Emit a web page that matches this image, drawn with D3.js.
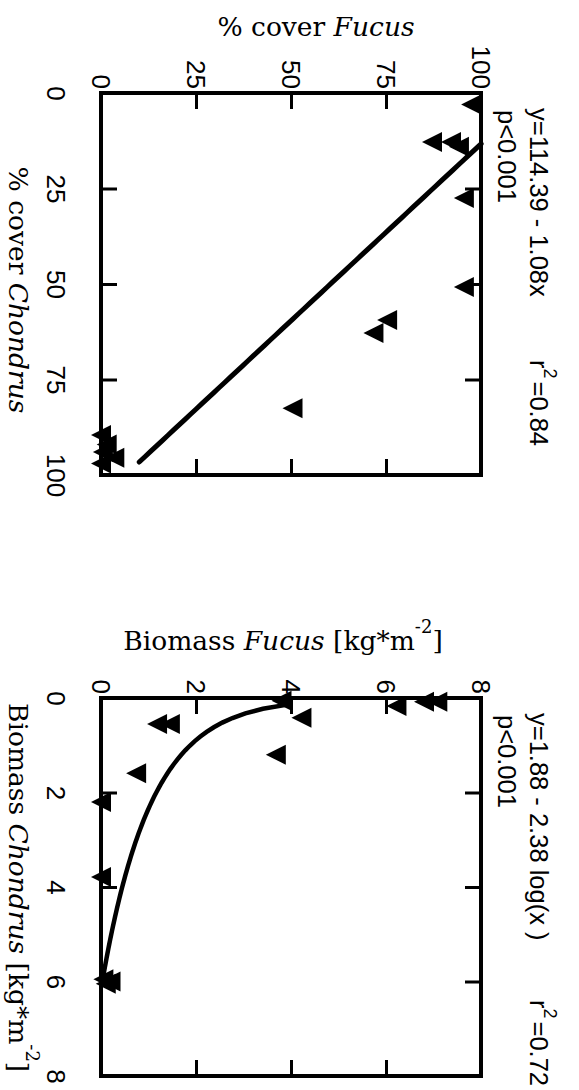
<!DOCTYPE html>
<html><head><meta charset="utf-8">
<script src="https://cdn.jsdelivr.net/npm/d3@7"></script>
<style>body{margin:0;background:#fff} svg{display:block}</style>
</head><body><svg id="c" width="579" height="1090"></svg>
<script>
// ---------- DATA ----------
// Panel 1: % cover
const p1Chondrus = [3, 12.8, 12.8, 14.1, 27.5, 50.8, 59.4, 62.8, 82.5, 89.5, 92, 94, 95.5, 97];
const p1Fucus    = [97.4, 87.1, 92.1, 94.2, 95.5, 95.5, 75.3, 71.7, 50.4, 0, 1.5, 0.5, 3.5, 0];
const p1Ticks = [0, 25, 50, 75, 100];
const p1FitA = 114.39, p1FitB = -1.08;          // y = a + b x
const p1FitRange = [13.3, 96.6];
const p1Eq = "y=114.39 - 1.08x", p1R2 = "0.84", p1P = "p<0.001";

// Panel 2: biomass
const p2Chondrus = [0.08, 0.08, 0.17, 0.06, 0.42, 1.2, 0.55, 0.55, 1.59, 2.2, 3.79, 5.95, 6.0, 6.05];
const p2Fucus    = [6.8, 7.08, 6.22, 3.8, 4.22, 3.68, 1.18, 1.45, 0.74, 0.0, 0.0, 0.05, 0.2, 0.1];
const p2Ticks = [0, 2, 4, 6, 8];
const p2FitA = 1.88, p2FitB = -2.38;             // y = a + b log10(x)
const p2FitRange = [0.13, 6.0];
const p2Eq = "y=1.88 - 2.38 log(x )", p2R2 = "0.72", p2P = "p<0.001";

// ---------- DRAW ----------
const svg = d3.select("#c");
const SANS = "Liberation Sans", SERIF = "DejaVu Serif";
const L = 101, R = 481;

function panel(cfg) {
  const x = d3.scaleLinear().domain([0, cfg.max]).range([L, R]);               // Fucus
  const y = d3.scaleLinear().domain([0, cfg.max]).range([cfg.top, cfg.bottom]); // Chondrus
  const g = svg.append("g");

  const styleAxis = sel => {
    sel.select(".domain").remove();
    sel.selectAll(".tick line").attr("stroke", "#000").attr("stroke-width", 3);
    sel.selectAll("text").attr("font-family", SANS).attr("font-size", 26).attr("fill", "#000");
  };

  // top (labelled) axis: Fucus
  g.append("g").attr("transform", `translate(0,${cfg.top})`)
    .call(d3.axisTop(x).tickValues(cfg.ticks).tickSize(-16).tickPadding(0))
    .call(styleAxis)
    .selectAll("text")
      .attr("x", 0).attr("y", 0).attr("dy", "0.35em")
      .attr("text-anchor", "end")
      .attr("transform", `translate(0,${-cfg.labGap}) rotate(90)`);
  // bottom mirror
  g.append("g").attr("transform", `translate(0,${cfg.bottom})`)
    .call(d3.axisBottom(x).tickValues(cfg.ticks).tickSize(-16).tickFormat(() => ""))
    .call(styleAxis);
  // left (labelled) axis: Chondrus
  g.append("g").attr("transform", `translate(${L},0)`)
    .call(d3.axisLeft(y).tickValues(cfg.ticks).tickSize(-16).tickPadding(0))
    .call(styleAxis)
    .selectAll("text")
      .attr("x", 0).attr("y", 0).attr("dy", "0.35em")
      .attr("text-anchor", "middle")
      .attr("transform", `translate(${56 - L},0) rotate(90)`);
  // right mirror
  g.append("g").attr("transform", `translate(${R},0)`)
    .call(d3.axisRight(y).tickValues(cfg.ticks).tickSize(-16).tickFormat(() => ""))
    .call(styleAxis);

  // frame
  g.append("rect").attr("x", L).attr("y", cfg.top)
    .attr("width", R - L).attr("height", cfg.bottom - cfg.top)
    .attr("fill", "none").attr("stroke", "#000").attr("stroke-width", 4);

  // fit line
  const fitPts = d3.range(0, 61).map(i => {
    const c = cfg.fitRange[0] + (cfg.fitRange[1] - cfg.fitRange[0]) * i / 60;
    return [c, cfg.fit(c)];
  });
  g.append("path").datum(fitPts)
    .attr("d", d3.line().x(d => x(d[1])).y(d => y(d[0])))
    .attr("fill", "none").attr("stroke", "#000")
    .attr("stroke-width", cfg.fitW).attr("stroke-linecap", "round");

  // points: filled triangles pointing left
  g.selectAll("path.pt").data(cfg.chondrus.map((c, i) => [c, cfg.fucus[i]]))
    .join("path").attr("class", "pt")
    .attr("d", "M-10,0L10,-10L10,10Z")
    .attr("transform", d => `translate(${x(d[1])},${y(d[0])})`)
    .attr("fill", "#000");

  // y-axis title (horizontal on the page)
  const yt = g.append("text").attr("x", cfg.yTitleX).attr("y", cfg.yTitleY)
    .attr("text-anchor", "middle").attr("font-family", SERIF).attr("font-size", 26.5);
  cfg.yTitle(yt);
  // x-axis title (rotated)
  const xt = g.append("text")
    .attr("transform", `translate(9,${cfg.xTitleY}) rotate(90)`)
    .attr("text-anchor", cfg.xTitleAnchor).attr("font-family", SERIF).attr("font-size", 26.5);
  cfg.xTitle(xt);

  // equation / stats
  const eq = (tx, ty) => g.append("text")
    .attr("transform", `translate(${tx},${ty}) rotate(90)`)
    .attr("font-family", SANS).attr("font-size", 25.5);
  eq(530, cfg.top + 15).text(cfg.eq);
  const r2 = eq(530, cfg.r2Y);
  r2.append("tspan").text("r");
  r2.append("tspan").attr("font-size", 18).attr("dy", -14).text("2");
  r2.append("tspan").attr("dy", 14).attr("dx", 3).text("=" + cfg.r2);
  eq(498, cfg.top + 17).text(cfg.p);
}

const sup = (t, s) => t.append("tspan").attr("font-size", 18).attr("dy", -17).text(s);

panel({
  max: 100, top: 93, bottom: 475, ticks: p1Ticks, labGap: 4,
  chondrus: p1Chondrus, fucus: p1Fucus,
  fit: c => p1FitA + p1FitB * c, fitRange: p1FitRange, fitW: 5,
  eq: p1Eq, r2: p1R2, r2Y: 360, p: p1P,
  yTitleX: 316, yTitleY: 36,
  yTitle: t => { t.append("tspan").text("% cover "); t.append("tspan").attr("font-style", "italic").text("Fucus"); },
  xTitleY: 290, xTitleAnchor: "middle",
  xTitle: t => { t.append("tspan").text("% cover "); t.append("tspan").attr("font-style", "italic").text("Chondrus"); }
});

panel({
  max: 8, top: 698, bottom: 1076, ticks: p2Ticks, labGap: 4,
  chondrus: p2Chondrus, fucus: p2Fucus,
  fit: c => p2FitA + p2FitB * Math.log10(c), fitRange: p2FitRange, fitW: 4.5,
  eq: p2Eq, r2: p2R2, r2Y: 1000, p: p2P,
  yTitleX: 283, yTitleY: 650,
  yTitle: t => {
    t.append("tspan").text("Biomass ");
    t.append("tspan").attr("font-style", "italic").text("Fucus");
    t.append("tspan").text(" [kg*m");
    sup(t, "-2");
    t.append("tspan").attr("dy", 17).text("]");
  },
  xTitleY: 703, xTitleAnchor: "start",
  xTitle: t => {
    t.append("tspan").text("Biomass ");
    t.append("tspan").attr("font-style", "italic").text("Chondrus");
    t.append("tspan").text(" [kg*m");
    sup(t, "-2");
    t.append("tspan").attr("dy", 17).text("]");
  }
});
</script></body></html>
